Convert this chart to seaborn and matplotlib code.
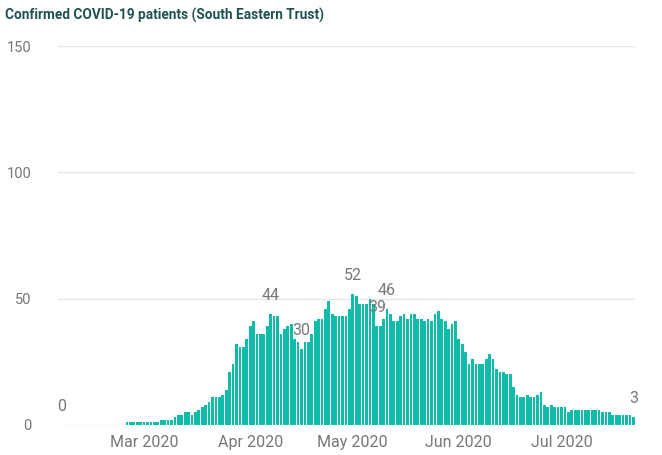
import numpy as np
import pandas as pd
import matplotlib
matplotlib.use("Agg")
import matplotlib.pyplot as plt
import seaborn as sns
from matplotlib import font_manager

# ---------------- data ----------------
start_date = "2020-02-06"
patients = [
    0, 0, 0, 0, 0, 0, 0, 0, 0, 0, 0, 0, 0, 0, 0, 0, 0, 0, 0,
    1, 1, 1, 1, 1, 1, 1, 1, 1, 1,
    2, 2, 2, 2,
    3, 4, 4, 5, 5, 4, 5, 6, 7, 8, 9, 11, 11, 11, 12, 14,
    21, 24, 32, 31, 31, 34, 39, 41, 36, 36, 36, 39, 44, 43, 43, 36, 38, 39, 40,
    34, 33, 30, 33, 33, 36, 41, 42, 42, 46, 49, 44, 43, 43, 43, 43, 46, 52, 51, 48, 48, 48, 50, 48,
    39, 39, 42, 46, 44, 41, 41, 43, 44, 42, 44, 44, 42, 42, 41, 42, 41, 44, 45, 42, 41, 38, 40, 41,
    34, 32, 29, 24, 26, 24, 24, 24, 26, 28, 26, 22, 21, 21, 20, 20, 15, 12, 11, 11, 12, 11, 11, 12, 13,
    8, 7, 8, 7, 7, 7, 7,
    5,
    6, 6, 6, 6, 6, 6, 6, 6, 6,
    5, 5, 5,
    4, 4, 4, 4, 4, 4,
    3,
]
label_days = [0, 61, 70, 85, 92, 95, 167]
y_ticks = [0, 50, 100, 150]
title = "Confirmed COVID-19 patients (South Eastern Trust)"

dates = pd.date_range(start_date, periods=len(patients), freq="D")
df = pd.DataFrame({"day": np.arange(len(patients)), "date": dates, "patients": patients})

# ---------------- style ----------------
sns.set_theme(style="white")
plt.rcParams["font.family"] = ["Roboto", "DejaVu Sans"]

installed = {f.name for f in font_manager.fontManager.ttflist}
title_font = "Liberation Sans Narrow" if "Liberation Sans Narrow" in installed else "Roboto"

W, H = 662, 455
fig = plt.figure(figsize=(W / 100, H / 100), dpi=100)
ax = fig.add_axes([58 / W, 30 / H, (635 - 58) / W, (425 - 46) / H])

sns.barplot(data=df, x="day", y="patients", color="#0fbcaa", saturation=1,
            width=0.8, linewidth=0, errorbar=None, ax=ax)

ax.set_xlim(-1.17, 167.5)
ax.set_ylim(0, 150)

# gridlines
ax.set_yticks(y_ticks)
ax.set_yticklabels([str(t) for t in y_ticks])
ax.yaxis.grid(True, color="#e6e6e6", linewidth=1)
ax.set_axisbelow(True)
for s in ax.spines.values():
    s.set_visible(False)

# month ticks
month_pos = [i for i, d in enumerate(dates) if d.day == 1]
month_lab = [dates[i].strftime("%b %Y") for i in month_pos]
ax.set_xticks(month_pos)
ax.set_xticklabels(month_lab)
ax.tick_params(axis="x", length=0, pad=7, labelsize=11.5, labelcolor="#777777")
ax.tick_params(axis="y", length=0, pad=19, labelsize=10.5, labelcolor="#777777")
ax.set_xlabel("")
ax.set_ylabel("")

# data labels
for d in label_days:
    v = patients[d]
    ax.annotate(str(v), (d, v), xytext=(0, 8), textcoords="offset points",
                ha="center", va="bottom", fontsize=11.5, color="#777777",
                clip_on=False)

t = fig.text(5 / W, 1 - 15.5 / H, title, ha="left", va="center",
             fontsize=11, fontweight="bold", color="#1f5350",
             family=[title_font, "DejaVu Sans"])
# fit the title to the reference width (~318 px)
fig.canvas.draw()
w = t.get_window_extent().width
t.set_fontsize(11 * 318 / w)

fig.savefig("out.png", dpi=100)
